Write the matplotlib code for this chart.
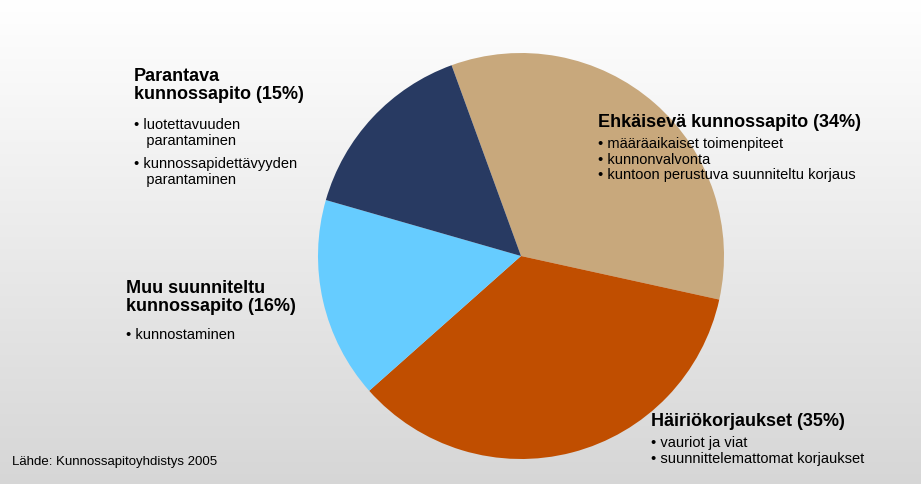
import matplotlib
matplotlib.use("Agg")
import matplotlib.pyplot as plt
import numpy as np

plt.rcParams['font.family'] = ['Liberation Sans', 'DejaVu Sans']

labels = ["Ehkäisevä kunnossapito", "Häiriökorjaukset", "Muu suunniteltu kunnossapito", "Parantava kunnossapito"]
values = [34, 35, 16, 15]
colors = ["#C8A87C", "#C04E00", "#66CCFF", "#283A62"]

W, H = 921, 485
fig = plt.figure(figsize=(W/100, H/100), dpi=100)
bg = fig.add_axes([0, 0, 1, 1])
grad = np.linspace(1.0, 0.84, 256).reshape(-1, 1)
bg.imshow(np.dstack([grad, grad, grad]), aspect='auto', extent=[0, 1, 0, 1])
bg.axis('off')

cx, cy, r = 521, 257, 203
ax = fig.add_axes([(cx-r)/W, (H-cy-r)/H, 2*r/W, 2*r/H])
ax.pie(values, colors=colors, startangle=110, counterclock=False,
       radius=1, wedgeprops=dict(linewidth=0))
ax.set_xlim(-1, 1)
ax.set_ylim(-1, 1)
ax.set_aspect('auto')
ax.axis('off')

def txt(x, y, s, bold=False, size=10.5, ls=1.15):
    fig.text(x/W, 1-y/H, s, fontsize=size, fontweight='bold' if bold else 'normal',
             va='top', ha='left', linespacing=ls)

tb = 13
txt(134, 68, "Parantava\nkunnossapito (15%)", True, tb, 1.1)
txt(134, 118, "• luotettavuuden\n   parantaminen")
txt(134, 157, "• kunnossapidettävyyden\n   parantaminen")
txt(126, 280, "Muu suunniteltu\nkunnossapito (16%)", True, tb, 1.1)
txt(126, 328, "• kunnostaminen")
txt(598, 114, "Ehkäisevä kunnossapito (34%)", True, tb)
txt(598, 137, "• määräaikaiset toimenpiteet\n• kunnonvalvonta\n• kuntoon perustuva suunniteltu korjaus")
txt(651, 413, "Häiriökorjaukset (35%)", True, tb)
txt(651, 436, "• vauriot ja viat\n• suunnittelemattomat korjaukset")
txt(12, 456, "Lähde: Kunnossapitoyhdistys 2005", size=9.5)

fig.savefig("out.png", dpi=100)
